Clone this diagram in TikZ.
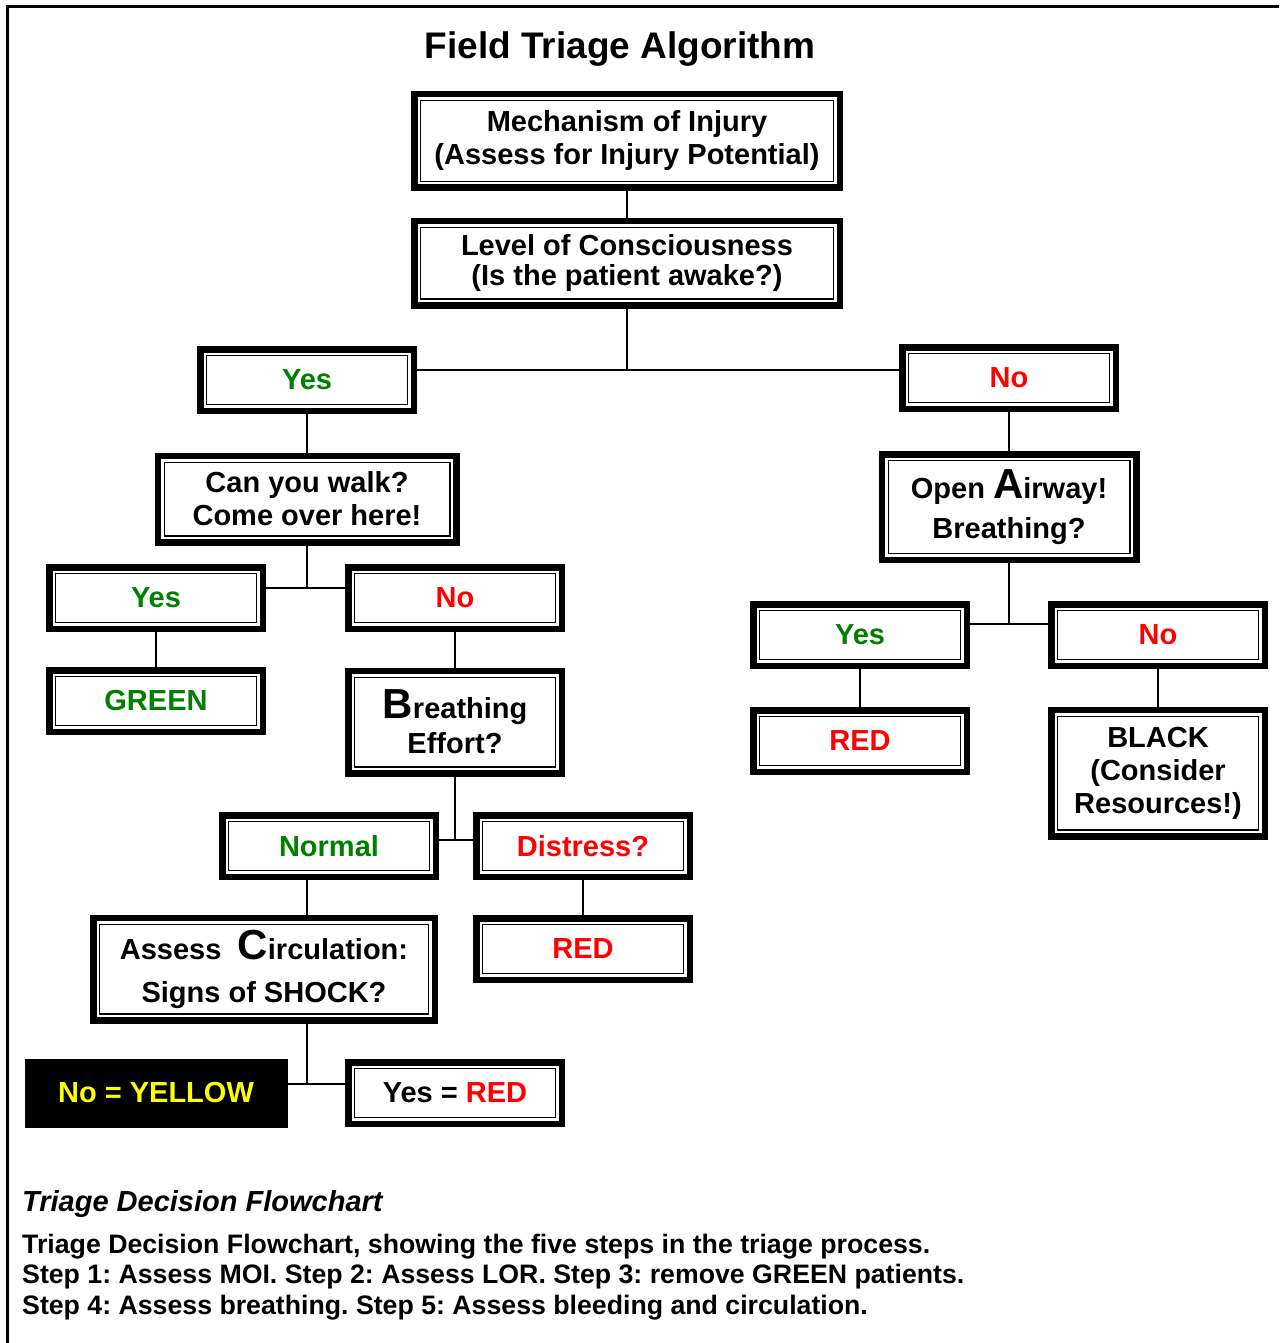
\documentclass[tikz,border=0pt]{standalone}
\usepackage{tikz}
\usepackage{xcolor}
\usepackage{fontspec}
\setmainfont{Liberation Sans}
\frenchspacing
\definecolor{triagegreen}{RGB}{0,128,0}
\definecolor{triagered}{RGB}{255,0,0}
\definecolor{triageyellow}{RGB}{255,255,0}
\newcommand{\bigini}[1]{{\fontsize{42}{42}\selectfont #1}}
\tikzset{
  step_box/.style={draw, line width=6.5pt, fill=white, align=center, inner sep=0pt,
    font=\fontsize{29}{33}\selectfont\bfseries,
    path picture={\draw[line width=1.3pt]
      ([shift={(6.4pt,-6.4pt)}]path picture bounding box.north west) rectangle
      ([shift={(-6.4pt,6.4pt)}]path picture bounding box.south east);}},
  ans_box/.style={step_box, minimum width=213.5pt, minimum height=61.5pt},
  link/.style={line width=1.5pt}
}

\begin{document}
\begin{tikzpicture}[x=1pt, y=-1pt]
\useasboundingbox (0,0) rectangle (1279,1343);
\draw[line width=3pt] (7,1343) -- (7,7) -- (1279,7);

\node[font=\fontsize{37}{44}\selectfont\bfseries] (title) at (620,49) {Field Triage Algorithm};

% top of the chart
\node[step_box, minimum width=425.5pt, minimum height=93.5pt] (moi) at (627,141)
  {Mechanism of Injury\\(Assess for Injury Potential)};
\node[step_box, minimum width=425.5pt, minimum height=84.5pt] (loc) at (627,263)
  {Level of Consciousness\\[-3pt](Is the patient awake?)};

\node[ans_box, text=triagegreen] (yes_a) at (307,380) {Yes};
\node[ans_box, text=triagered] (no_a) at (1009,378) {No};

% awake branch
\node[step_box, minimum width=298.5pt, minimum height=86.5pt] (walk) at (307,499)
  {Can you walk?\\Come over here!};
\node[ans_box, text=triagegreen] (yes_b) at (156,598) {Yes};
\node[ans_box, text=triagered] (no_b) at (455,598) {No};
\node[ans_box, text=triagegreen] (green) at (156,701) {GREEN};
\node[step_box, minimum width=213.5pt, minimum height=102.5pt] (breath) at (455,722)
  {\bigini{B}reathing\\[2pt]Effort?};
\node[ans_box, text=triagegreen] (normal) at (329,846) {Normal};
\node[ans_box, text=triagered] (distress) at (583,846) {Distress?};
\node[ans_box, text=triagered] (red_a) at (583,949) {RED};
\node[step_box, minimum width=341.5pt, minimum height=102.5pt] (circ) at (264,969)
  {Assess\ \ \bigini{C}irculation:\\[10pt]Signs of SHOCK?};
\node[fill=black, inner sep=0pt, minimum width=263pt, minimum height=69pt,
  font=\fontsize{29}{33}\selectfont\bfseries, text=triageyellow] (yellow) at (156,1093) {No = YELLOW};
\node[ans_box] (yes_red) at (455,1093) {Yes = \textcolor{triagered}{RED}};

% not awake branch
\node[step_box, minimum width=254.5pt, minimum height=105.5pt] (airway) at (1009,507)
  {Open \bigini{A}irway!\\[7pt]Breathing?};
\node[ans_box, text=triagegreen] (yes_c) at (860,635) {Yes};
\node[ans_box, text=triagered] (no_c) at (1158,635) {No};
\node[ans_box, text=triagered] (red_b) at (860,741) {RED};
\node[step_box, minimum width=213.5pt, minimum height=126.5pt] (black) at (1158,773)
  {BLACK\\(Consider\\Resources!)};

% connectors
\coordinate (j_loc) at (627,370);
\coordinate (j_walk) at (307,588);
\coordinate (j_breath) at (455,840);
\coordinate (j_circ) at (307,1084);
\coordinate (j_air) at (1009,624);

\draw[link] (moi) -- (loc);
\draw[link] (loc) -- (j_loc);
\draw[link] (yes_a.east |- j_loc) -- (no_a.west |- j_loc);
\draw[link] (yes_a) -- (walk);
\draw[link] (walk) -- (j_walk);
\draw[link] (yes_b.east |- j_walk) -- (no_b.west |- j_walk);
\draw[link] (yes_b) -- (green);
\draw[link] (no_b) -- (breath);
\draw[link] (breath) -- (j_breath);
\draw[link] (normal.east |- j_breath) -- (distress.west |- j_breath);
\draw[link] (distress) -- (red_a);
\draw[link] (normal.south -| j_circ) -- (circ.north -| j_circ);
\draw[link] (circ.south -| j_circ) -- (j_circ);
\draw[link] (yellow.east |- j_circ) -- (yes_red.west |- j_circ);
\draw[link] (no_a) -- (airway);
\draw[link] (airway) -- (j_air);
\draw[link] (yes_c.east |- j_air) -- (no_c.west |- j_air);
\draw[link] (yes_c) -- (red_b);
\draw[link] (no_c) -- (black);

% caption
\node[anchor=west, inner sep=0pt, font=\fontsize{29}{33}\selectfont\bfseries\itshape] (cap_head) at (22,1204)
  {Triage Decision Flowchart};
\node[anchor=west, inner sep=0pt, align=left, font=\fontsize{26.7}{30.5}\selectfont\bfseries] (cap_text) at (22,1277)
  {Triage Decision Flowchart, showing the five steps in the triage process.\\
   Step 1: Assess MOI. Step 2: Assess LOR. Step 3: remove GREEN patients.\\
   Step 4: Assess breathing. Step 5: Assess bleeding and circulation.};
\end{tikzpicture}
\end{document}
